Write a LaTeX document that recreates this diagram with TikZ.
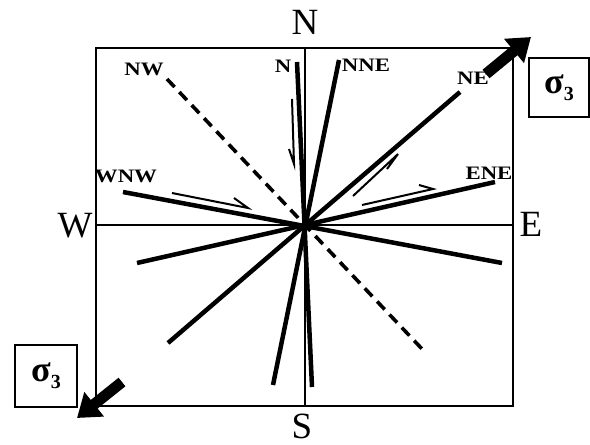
\documentclass[tikz,border=0pt]{standalone}
\usepackage{fontspec}
\setmainfont{Liberation Serif}
\usetikzlibrary{arrows.meta}
\tikzset{
  frame/.style={line width=2.6pt},
  axis/.style={line width=1.4pt},
  ray/.style={line width=4.5pt},
  dray/.style={line width=3.6pt,dash pattern=on 11pt off 7pt},
  slip/.style={line width=2pt,line join=miter},
  cardinal/.style={font=\fontsize{37}{37}\selectfont,inner sep=0pt},
  trend/.style={font=\bfseries\fontsize{19}{19}\selectfont,inner sep=0pt,xscale=1.2,transform shape},
  sigbox/.style={draw,line width=1.6pt,inner sep=0pt,font=\bfseries\fontsize{36}{36}\selectfont},
  push/.style={line width=11pt,-{Triangle[length=22pt,width=30pt]}}
}
\newcommand{\sigthree}{σ\raisebox{-7pt}{\fontsize{20}{20}\selectfont 3}}

\begin{document}
\begin{tikzpicture}[x=1pt,y=-1pt]
\useasboundingbox (0,0) rectangle (590,445);
\draw[frame] (96,48) rectangle (513,406);
\coordinate (ax-n) at (305,48);
\coordinate (ax-s) at (305,406);
\coordinate (ax-w) at (96,225);
\coordinate (ax-e) at (513,225);
\draw[axis] (ax-n) -- (ax-s);
\draw[axis] (ax-w) -- (ax-e);

\node[cardinal] (lN) at (305,22) {N};
\node[cardinal] (lS) at (302,426) {S};
\node[cardinal] (lW) at (75,226) {W};
\node[cardinal] (lE) at (531,224) {E};

\coordinate (N1) at (297,62);   \coordinate (N2) at (312,387);
\coordinate (NNE1) at (339,60); \coordinate (NNE2) at (273,385);
\coordinate (NE1) at (460,92);  \coordinate (NE2) at (168,343);
\coordinate (ENE1) at (495,182);\coordinate (ENE2) at (137,263);
\coordinate (WNW1) at (123,192);\coordinate (WNW2) at (502,263);
\coordinate (NW1) at (167,79);  \coordinate (NW2) at (423,350);
\foreach \r in {N,NNE,NE,ENE,WNW}{\draw[ray] (\r1) -- (\r2);}
\draw[dray] (NW1) -- (NW2);

\node[trend] (tNW) at (144,69) {NW};
\node[trend] (tN) at (283,66) {N};
\node[trend] (tNNE) at (366,65) {NNE};
\node[trend] (tNE) at (473,78) {NE};
\node[trend] (tENE) at (489,173) {ENE};
\node[trend] (tWNW) at (126,176) {WNW};

\coordinate (sN1) at (292,99);   \coordinate (sN2) at (294,164);  \coordinate (bN) at (289,149);
\coordinate (sW1) at (172,193);  \coordinate (sW2) at (248,208);  \coordinate (bW) at (234,198);
\coordinate (sNE1) at (353,196); \coordinate (sNE2) at (398,154); \coordinate (bNE) at (387,169);
\coordinate (sE1) at (362,205);  \coordinate (sE2) at (433,189);  \coordinate (bE) at (419,185);
\foreach \s in {N,W,NE,E}{\draw[slip] (s\s1) -- (s\s2) -- (b\s);}

\node[sigbox,minimum width=60pt,minimum height=59pt] (s1) at (559,87.5) {\sigthree};
\node[sigbox,minimum width=62pt,minimum height=62pt] (s2) at (46,376) {\sigthree};
\coordinate (p1a) at (486,74);  \coordinate (p1b) at (531,37);
\coordinate (p2a) at (122,382); \coordinate (p2b) at (77,418);
\draw[push] (p1a) -- (p1b);
\draw[push] (p2a) -- (p2b);
\end{tikzpicture}
\end{document}
